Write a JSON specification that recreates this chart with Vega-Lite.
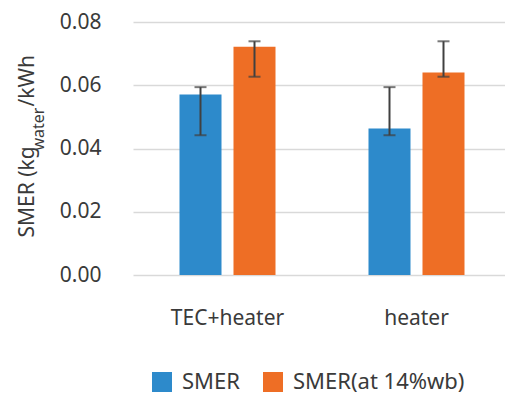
{
  "$schema": "https://vega.github.io/schema/vega-lite/v6.json",
  "width": 378,
  "height": 253,
  "autosize": {"type": "none"},
  "padding": {"left": 133, "top": 22, "right": 0, "bottom": 122},
  "background": "white",
  "config": {
    "view": {"stroke": null},
    "font": "Noto Sans",
    "axis": {"labelColor": "#3a3a3a", "titleColor": "#3a3a3a", "titleFontWeight": "normal"},
    "legend": {"labelColor": "#3a3a3a"}
  },
  "data": {
    "values": [
      {"group": "TEC+heater", "series": "SMER", "value": 0.0571, "lo": 0.0442, "hi": 0.0594},
      {"group": "TEC+heater", "series": "SMER(at 14%wb)", "value": 0.0722, "lo": 0.0627, "hi": 0.0739},
      {"group": "heater", "series": "SMER", "value": 0.0463, "lo": 0.0442, "hi": 0.0594},
      {"group": "heater", "series": "SMER(at 14%wb)", "value": 0.0640, "lo": 0.0627, "hi": 0.0739}
    ]
  },
  "encoding": {
    "x": {
      "field": "group",
      "type": "nominal",
      "scale": {"domain": ["TEC+heater", "heater"], "paddingInner": 0.492, "paddingOuter": 0.246},
      "axis": {
        "title": null,
        "labelAngle": 0,
        "labelFontSize": 21,
        "labelPadding": 32,
        "labelBaseline": "top",
        "domain": false,
        "ticks": false,
        "grid": false
      }
    },
    "xOffset": {
      "field": "series",
      "type": "nominal",
      "scale": {"domain": ["SMER", "SMER(at 14%wb)"], "paddingInner": 0.222, "paddingOuter": 0}
    }
  },
  "layer": [
    {
      "mark": {"type": "bar"},
      "encoding": {
        "y": {
          "field": "value",
          "type": "quantitative",
          "scale": {"domain": [0, 0.08]},
          "axis": {
            "orient": "left",
            "values": [0, 0.02, 0.04, 0.06, 0.08],
            "format": ".2f",
            "labelFontSize": 21,
            "labelPadding": 32,
            "ticks": false,
            "domain": false,
            "grid": true,
            "gridColor": "#d9d9d9",
            "gridWidth": 1.5,
            "title": "SMER (kg",
            "titleFontSize": 21,
            "titleAngle": -90,
            "titleAlign": "left",
            "titleBaseline": "alphabetic",
            "titleX": -99.5,
            "titleY": 215
          }
        },
        "color": {
          "field": "series",
          "type": "nominal",
          "scale": {"domain": ["SMER", "SMER(at 14%wb)"], "range": ["#2d8acb", "#ee6e25"]},
          "legend": {
            "title": null,
            "orient": "none",
            "legendX": 18,
            "legendY": 349,
            "direction": "horizontal",
            "symbolType": "square",
            "symbolSize": 400,
            "symbolStrokeWidth": 0,
            "labelFontSize": 22,
            "labelOffset": 9,
            "labelLimit": 400,
            "columnPadding": 22,
            "padding": 0
          }
        }
      }
    },
    {
      "mark": {"type": "rule", "color": "#404040", "strokeWidth": 2},
      "encoding": {
        "y": {
          "field": "lo",
          "type": "quantitative",
          "axis": {
            "orient": "left",
            "labels": false,
            "ticks": false,
            "domain": false,
            "grid": false,
            "title": "water",
            "titleFontSize": 16,
            "titleAngle": -90,
            "titleAlign": "left",
            "titleBaseline": "alphabetic",
            "titleX": -89.5,
            "titleY": 128
          }
        },
        "y2": {"field": "hi"}
      }
    },
    {
      "mark": {"type": "tick", "color": "#404040", "thickness": 2, "size": 12},
      "encoding": {
        "y": {
          "field": "hi",
          "type": "quantitative",
          "axis": {
            "orient": "left",
            "labels": false,
            "ticks": false,
            "domain": false,
            "grid": false,
            "title": "/kWh",
            "titleFontSize": 21,
            "titleAngle": -90,
            "titleAlign": "left",
            "titleBaseline": "alphabetic",
            "titleX": -99.5,
            "titleY": 84
          }
        }
      }
    },
    {
      "mark": {"type": "tick", "color": "#404040", "thickness": 2, "size": 12},
      "encoding": {
        "y": {"field": "lo", "type": "quantitative", "axis": null}
      }
    }
  ],
  "resolve": {"axis": {"y": "independent"}}
}
